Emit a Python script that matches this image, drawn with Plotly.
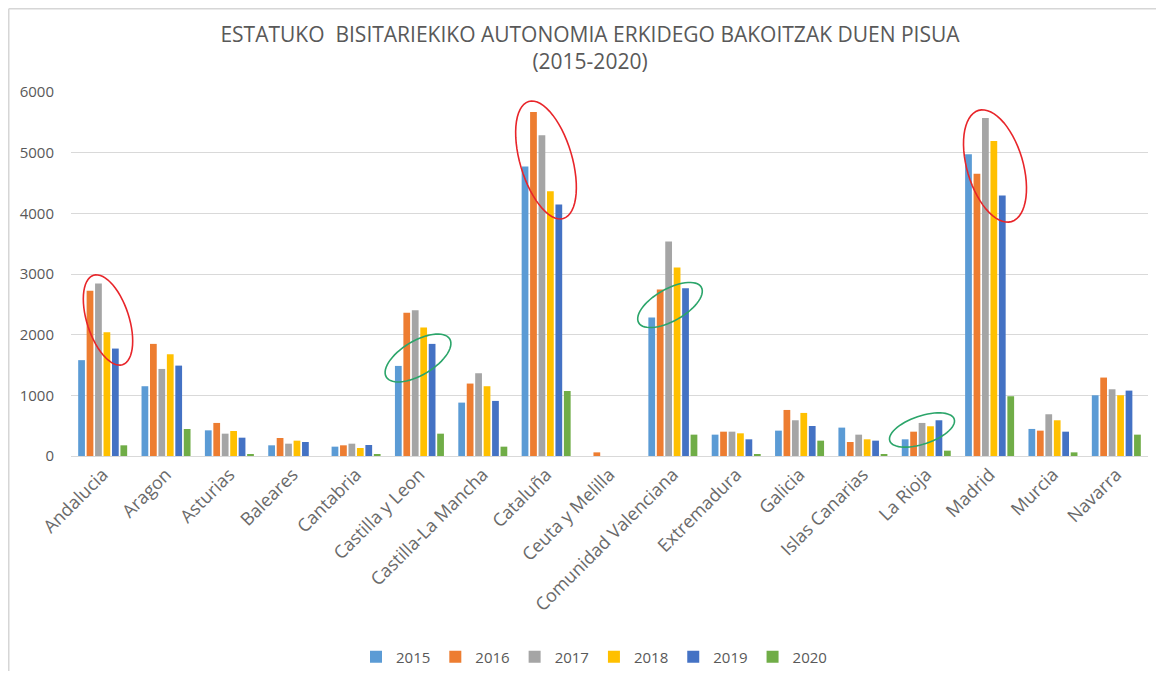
import math
import plotly.graph_objects as go

regions = ["Andalucia", "Aragon", "Asturias", "Baleares", "Cantabria", "Castilla y Leon",
           "Castilla-La Mancha", "Cataluña", "Ceuta y Melilla", "Comunidad Valenciana",
           "Extremadura", "Galicia", "Islas Canarias", "La Rioja", "Madrid", "Murcia", "Navarra"]

y2015 = [1580, 1150, 423, 176, 154, 1485, 880, 4774, 0, 2283, 352, 418, 468, 275, 4972, 446, 1001]
y2016 = [2722, 1848, 545, 297, 176, 2360, 1194, 5670, 60, 2745, 401, 759, 231, 401, 4653, 418, 1293]
y2017 = [2843, 1435, 368, 203, 203, 2403, 1364, 5286, 0, 3537, 401, 589, 352, 545, 5572, 688, 1100]
y2018 = [2040, 1677, 412, 253, 132, 2118, 1150, 4362, 0, 3108, 374, 710, 275, 490, 5192, 589, 1001]
y2019 = [1771, 1490, 302, 231, 181, 1848, 908, 4147, 0, 2767, 275, 495, 253, 589, 4296, 401, 1078]
y2020 = [176, 445, 25, 0, 33, 368, 154, 1072, 0, 352, 33, 253, 33, 88, 985, 60, 352]

series = [("2015", y2015, "#5B9BD5"), ("2016", y2016, "#ED7D31"), ("2017", y2017, "#A5A5A5"),
          ("2018", y2018, "#FFC000"), ("2019", y2019, "#4472C4"), ("2020", y2020, "#70AD47")]

# The page body adds an 8px margin; the figure is sized to fill the remaining window.
OFF = 8
W, H = 1164 - 2 * OFF, 679 - 2 * OFF
# target plot area in window pixels: x 71..1148, y 92..456
L, T = 71 - OFF, 92 - OFF
R = W - (1148 - OFF)
B = H - (456 - OFF)
PW, PH = W - L - R, H - T - B

fig = go.Figure()
for name, vals, col in series:
    fig.add_trace(go.Bar(name=name, x=regions, y=vals, marker_color=col, marker_line_width=0))


def px2paper(px, py):
    """window pixel -> paper coords"""
    fx, fy = px - OFF, py - OFF
    return (fx - L) / PW, (H - B - fy) / PH


def ellipse_path(cx, cy, a, b, phi_deg, n=60):
    phi = math.radians(phi_deg)
    pts = []
    for i in range(n + 1):
        t = 2 * math.pi * i / n
        px = cx + a * math.cos(t) * math.cos(phi) - b * math.sin(t) * math.sin(phi)
        py = cy + a * math.cos(t) * math.sin(phi) + b * math.sin(t) * math.cos(phi)
        xp, yp = px2paper(px, py)
        pts.append(f"{xp:.5f},{yp:.5f}")
    return "M" + " L".join(pts) + " Z"


ellipses = [
    (108, 320, 47, 21, 72, "#E8252A"),
    (546, 160, 61, 26, 73.5, "#E8252A"),
    (995, 166, 58, 28, 73.5, "#E8252A"),
    (418, 358, 37, 17, -31, "#2BA56A"),
    (670, 305, 36, 16, -29.5, "#2BA56A"),
    (922, 430, 34, 14, -18.7, "#2BA56A"),
]
shapes = []
for cx, cy, a, b, phi, col in ellipses:
    shapes.append(dict(type="path", xref="paper", yref="paper", path=ellipse_path(cx, cy, a, b, phi),
                       line=dict(color=col, width=1.6), fillcolor="rgba(0,0,0,0)", layer="above"))

# chart frame (left and top edges visible)
fx0, fy0 = px2paper(OFF + 0.75, OFF + 0.75)
fx1, fy1 = px2paper(1300, 800)
shapes.append(dict(type="line", xref="paper", yref="paper", x0=fx0, x1=fx0, y0=fy0, y1=fy1,
                   line=dict(color="#D6D6D6", width=1.5)))
shapes.append(dict(type="line", xref="paper", yref="paper", x0=fx0, x1=fx1, y0=fy0, y1=fy0,
                   line=dict(color="#D6D6D6", width=1.5)))

font_family = "Open Sans, Lato, sans-serif"
fig.update_layout(
    width=W, height=H,
    margin=dict(l=L, r=R, t=T, b=B, autoexpand=False),
    paper_bgcolor="white", plot_bgcolor="white",
    barmode="group", bargap=0.2, bargroupgap=0.2,
    title=dict(text="ESTATUKO  BISITARIEKIKO AUTONOMIA ERKIDEGO BAKOITZAK DUEN PISUA<br>(2015-2020)",
               x=(590 - OFF) / W, xanchor="center", y=1 - 34 / H, yanchor="top",
               font=dict(family=font_family, size=21, color="#595959")),
    font=dict(family=font_family, color="#595959"),
    xaxis=dict(tickangle=-45, tickfont=dict(size=18, color="#6a6a6a"), showgrid=False,
               showline=True, linecolor="#D9D9D9", ticks="", automargin=False),
    yaxis=dict(range=[0, 6000], dtick=1000, showgrid=True, gridcolor="#D9D9D9", gridwidth=1,
               zeroline=False, tickfont=dict(size=15, color="#595959"), ticklabelstandoff=16,
               automargin=False),
    legend=dict(orientation="h", x=(594 - OFF - L) / PW, xanchor="center",
                y=(456 - 657) / PH, yanchor="middle", font=dict(size=15, color="#595959"),
                itemwidth=30, traceorder="normal"),
    shapes=shapes,
)

fig.write_html("out.html")
